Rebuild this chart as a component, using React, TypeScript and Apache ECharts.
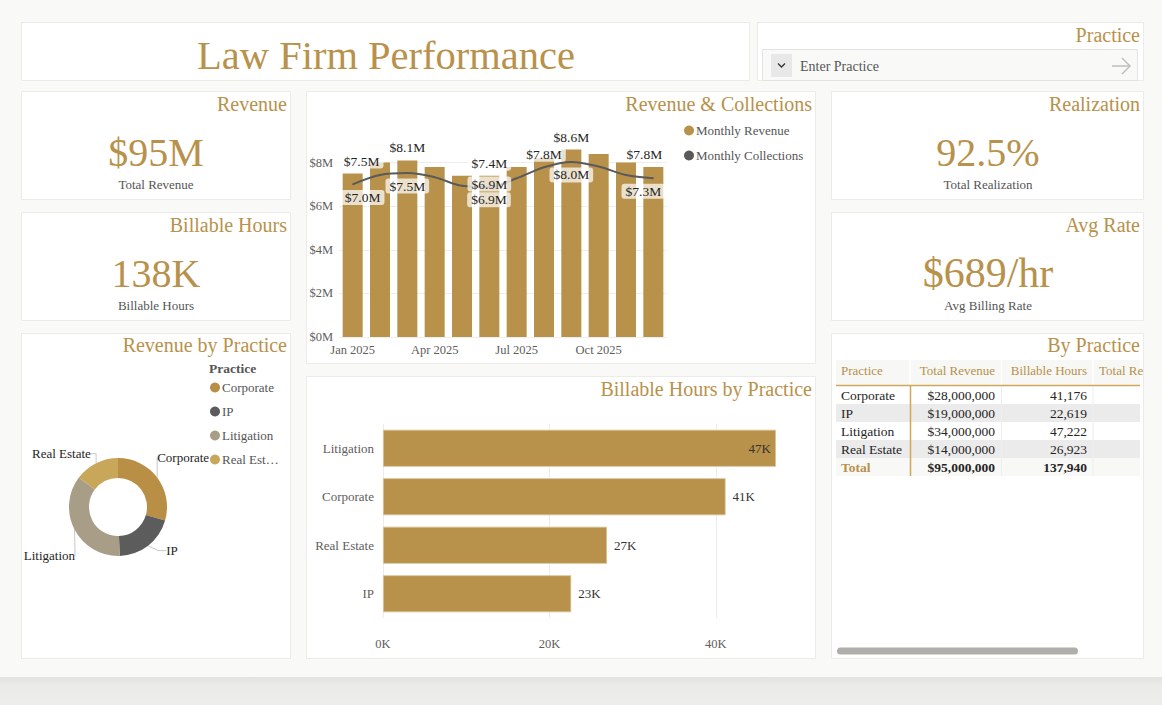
import React, { useEffect, useRef } from 'react';
import * as echarts from 'echarts';

// ---------------- data ----------------
const months = ['Jan 2025', 'Feb 2025', 'Mar 2025', 'Apr 2025', 'May 2025', 'Jun 2025', 'Jul 2025', 'Aug 2025', 'Sep 2025', 'Oct 2025', 'Nov 2025', 'Dec 2025'];
const monthlyRevenue = [7.5, 8.0, 8.1, 7.8, 7.4, 7.4, 7.8, 8.2, 8.6, 8.4, 8.0, 7.8]; // $M
const monthlyCollections = [7.0, 7.43, 7.52, 7.33, 6.94, 6.88, 7.28, 7.79, 8.03, 7.82, 7.43, 7.28]; // $M
const revenueTickLabels = ['$0M', '$2M', '$4M', '$6M', '$8M'];
const practices = ['Corporate', 'IP', 'Litigation', 'Real Estate'];
const practiceRevenue = [28000000, 19000000, 34000000, 14000000];
const practiceHours = [41176, 22619, 47222, 26923];
const hoursTickLabels = ['0K', '20K', '40K'];
const realizationRate = 0.925;

// which data labels the original shows
const revenueLabelIdx = [0, 2, 5, 8, 11];
const collectionLabelIdx = [0, 2, 4, 5, 7, 8, 11];

// ---------------- styles ----------------
const GOLD = '#b8914a';
const FONT = '"Liberation Serif", "DejaVu Serif", Georgia, serif';
const BG = '#f9f9f7';
const pieColors = ['#b88f45', '#5c5c5c', '#a89e88', '#c9a75a'];
// nudges of the donut's outside labels (Power BI places them closer to the ring)
const pieLabelNudge = [
  [-17, -17],
  [2, 1],
  [18, 24],
  [10, -5],
];

const revLabelStyle: Record<number, any> = {
  0: { position: 'top', offset: [9, 0] },
  2: { position: 'top' },
  5: { position: 'top' },
  8: { position: 'top' },
  11: { position: 'top', offset: [-9, 0] },
};
const colLabelStyle: Record<number, any> = {
  0: { position: 'bottom', offset: [10, 0] },
  2: { position: 'bottom' },
  4: { position: 'bottom', offset: [27, 1] },
  5: { position: 'inside', offset: [0, -3] },
  7: { position: 'top' },
  8: { position: 'bottom' },
  11: { position: 'bottom', offset: [-10, 0] },
};

const labelBox = {
  fontSize: 13.5,
  fontFamily: FONT,
  color: '#252423',
  backgroundColor: 'rgba(255,255,255,0.72)',
  padding: [1, 4],
  lineHeight: 13,
  borderRadius: 3,
};

function text(t: string, x: number, y: number, o: any = {}) {
  return {
    type: 'text',
    x,
    y,
    z: o.z ?? 5,
    style: {
      text: t,
      fill: o.fill ?? '#252423',
      fontSize: o.size ?? 13,
      fontFamily: FONT,
      fontWeight: o.weight ?? 'normal',
      textAlign: o.align ?? 'left',
      textVerticalAlign: 'middle',
      ...(o.width ? { width: o.width, overflow: 'truncate', ellipsis: '' } : {}),
    },
  };
}
function rect(x: number, y: number, w: number, h: number, fill: string, stroke?: string, z = 1, r = 0) {
  return {
    type: 'rect',
    z,
    shape: { x, y, width: w, height: h, r },
    style: { fill, stroke: stroke ?? 'none', lineWidth: 1 },
  };
}
function line(x1: number, y1: number, x2: number, y2: number, stroke: string, w = 1, z = 3) {
  return { type: 'line', z, shape: { x1, y1, x2, y2 }, style: { stroke, lineWidth: w } };
}

function buildOption() {
  const fmtM = (v: number) => '$' + v.toFixed(1) + 'M';
  const totalRevenue = practiceRevenue.reduce((a, b) => a + b, 0);
  const totalHours = practiceHours.reduce((a, b) => a + b, 0);
  const avgRate = Math.round(totalRevenue / totalHours);

  const order = practices.map((_, i) => i).sort((a, b) => practiceHours[b] - practiceHours[a]);
  const sortedPractices = order.map((i) => practices[i]);
  const sortedHours = order.map((i) => practiceHours[i]);

  const panels = [
    [21.5, 22.5, 728, 58],
    [757.5, 22.5, 386, 58],
    [21.5, 91.5, 269, 108],
    [21.5, 212.5, 269, 108],
    [306.5, 91.5, 509, 272],
    [831.5, 91.5, 312, 108],
    [831.5, 212.5, 312, 108],
    [21.5, 333.5, 269, 325],
    [306.5, 376.5, 509, 282],
    [831.5, 333.5, 312, 325],
  ];

  const TS = 20; // panel title size
  const g: any[] = [];
  g.push({
    type: 'rect',
    z: 0,
    shape: { x: 0, y: 677, width: 1162, height: 28 },
    style: {
      fill: {
        type: 'linear', x: 0, y: 0, x2: 0, y2: 1,
        colorStops: [
          { offset: 0, color: '#e2e2e0' },
          { offset: 0.3, color: '#ebebea' },
          { offset: 1, color: '#ededec' },
        ],
      },
    },
  });
  panels.forEach(([x, y, w, h]) => g.push(rect(x, y, w, h, '#ffffff', '#ecebe8', 0)));

  // Title
  g.push(text('Law Firm Performance', 386, 55, { size: 40.5, fill: GOLD, align: 'center' }));

  // Slicer
  g.push(text('Practice', 1140, 35, { size: TS, fill: GOLD, align: 'right' }));
  g.push(rect(762.5, 49.5, 375, 31, '#f9f9f8', '#e3e3e3', 1));
  g.push(rect(771, 54, 21, 23, '#e8e8e8', undefined, 2));
  g.push({ type: 'polyline', z: 3, shape: { points: [[778, 63.5], [781.5, 67], [785, 63.5]] }, style: { stroke: '#333', lineWidth: 1.3, fill: 'none' } });
  g.push(text('Enter Practice', 800, 66, { size: 14, fill: '#555' }));
  g.push(line(1112, 66, 1130, 66, '#bbbbbb', 1.4));
  g.push({ type: 'polyline', z: 3, shape: { points: [[1122, 58], [1130, 66], [1122, 74]] }, style: { stroke: '#bbbbbb', lineWidth: 1.4, fill: 'none' } });

  // KPI cards
  g.push(text('Revenue', 287, 104, { size: TS, fill: GOLD, align: 'right' }));
  g.push(text('$' + Math.round(totalRevenue / 1e6) + 'M', 156, 152, { size: 40, fill: GOLD, align: 'center' }));
  g.push(text('Total Revenue', 156, 184, { size: 13, fill: '#555', align: 'center' }));

  g.push(text('Billable Hours', 287, 225, { size: TS, fill: GOLD, align: 'right' }));
  g.push(text(Math.round(totalHours / 1000) + 'K', 156, 273, { size: 40, fill: GOLD, align: 'center' }));
  g.push(text('Billable Hours', 156, 305, { size: 13, fill: '#555', align: 'center' }));

  g.push(text('Realization', 1140, 104, { size: TS, fill: GOLD, align: 'right' }));
  g.push(text((realizationRate * 100).toFixed(1) + '%', 988, 152, { size: 40, fill: GOLD, align: 'center' }));
  g.push(text('Total Realization', 988, 184, { size: 13, fill: '#555', align: 'center' }));

  g.push(text('Avg Rate', 1140, 225, { size: TS, fill: GOLD, align: 'right' }));
  g.push(text('$' + avgRate + '/hr', 988, 273, { size: 42, fill: GOLD, align: 'center' }));
  g.push(text('Avg Billing Rate', 988, 305, { size: 13, fill: '#555', align: 'center' }));

  // chart titles
  g.push(text('Revenue & Collections', 812, 104, { size: TS, fill: GOLD, align: 'right' }));
  g.push(text('Revenue by Practice', 287, 345, { size: TS, fill: GOLD, align: 'right' }));
  g.push(text('Practice', 209, 368, { size: 13.5, fill: '#555', weight: 'bold' }));
  g.push(text('Billable Hours by Practice', 812, 389, { size: TS, fill: GOLD, align: 'right' }));
  g.push(text('By Practice', 1140, 345, { size: TS, fill: GOLD, align: 'right' }));

  // Table
  const tL = 836, tR = 1140;
  g.push(rect(tL, 360, tR - tL, 25, '#f7f7f5', undefined, 1));
  [910, 1001.5, 1093].forEach((x) => g.push(line(x, 360, x, 385, '#ffffff', 1.5, 2)));
  const rowTop = 386, rowH = 18;
  practices.forEach((p, i) => {
    const y0 = rowTop + i * rowH;
    if (i % 2 === 1) g.push(rect(tL, y0, tR - tL, rowH, '#ebebeb', undefined, 1));
    const cy = y0 + rowH / 2;
    g.push(text(p, 841, cy, { size: 13.5 }));
    g.push(text('$' + practiceRevenue[i].toLocaleString('en-US'), 995, cy, { size: 13.5, align: 'right' }));
    g.push(text(practiceHours[i].toLocaleString('en-US'), 1087, cy, { size: 13.5, align: 'right' }));
  });
  const totTop = rowTop + practices.length * rowH;
  g.push(rect(tL, totTop, tR - tL, rowH, '#f8f8f6', undefined, 1));
  [1001.5, 1093].forEach((x) => g.push(line(x, rowTop, x, totTop + rowH, '#eeeeec', 1, 2)));
  g.push(text('Total', 841, totTop + rowH / 2, { size: 13.5, fill: GOLD, weight: 'bold' }));
  g.push(text('$' + totalRevenue.toLocaleString('en-US'), 995, totTop + rowH / 2, { size: 13.5, weight: 'bold', align: 'right' }));
  g.push(text(totalHours.toLocaleString('en-US'), 1087, totTop + rowH / 2, { size: 13.5, weight: 'bold', align: 'right' }));
  g.push(line(tL, 385.5, tR, 385.5, '#cfa75b', 1.5, 3));
  g.push(line(910.5, 386, 910.5, totTop + rowH, '#cfa75b', 1.5, 3));
  g.push(text('Practice', 841, 370, { size: 13, fill: GOLD }));
  g.push(text('Total Revenue', 995, 370, { size: 13, fill: GOLD, align: 'right' }));
  g.push(text('Billable Hours', 1087, 370, { size: 13, fill: GOLD, align: 'right' }));
  g.push(text('Total Realization', 1099, 370, { size: 13, fill: GOLD, width: 46 }));
  // scrollbar
  g.push(rect(837, 647.5, 241, 7, '#b0aeaa', undefined, 2, 3.5));

  const axisText = { fontSize: 12.5, color: '#605e5c', fontFamily: FONT };

  return {
    animation: false,
    backgroundColor: BG,
    textStyle: { fontFamily: FONT },
    graphic: { elements: g },
    legend: [
      {
        data: ['Monthly Revenue', 'Monthly Collections'],
        orient: 'vertical',
        left: 679,
        top: 119,
        icon: 'circle',
        itemWidth: 10,
        itemHeight: 10,
        itemGap: 12,
        selectedMode: false,
        textStyle: { fontSize: 13, color: '#555', fontFamily: FONT, padding: [0, 0, 0, -3] },
      },
      {
        data: practices,
        orient: 'vertical',
        left: 205,
        top: 376,
        icon: 'circle',
        itemWidth: 10,
        itemHeight: 10,
        itemGap: 11,
        selectedMode: false,
        formatter: (n: string) => (n.length > 10 ? n.slice(0, 8) + '…' : n),
        textStyle: { fontSize: 13, color: '#555', fontFamily: FONT, padding: [0, 0, 0, -3] },
      },
    ],
    grid: [
      { left: 339, right: 495, top: 119, bottom: 368 },
      { left: 383, right: 363, top: 424, bottom: 87 },
    ],
    xAxis: [
      {
        gridIndex: 0,
        type: 'category',
        data: months,
        axisTick: { show: false },
        axisLine: { show: false },
        axisLabel: { ...axisText, interval: 2, margin: 6 },
      },
      {
        gridIndex: 1,
        type: 'value',
        min: 0,
        max: 50000,
        interval: 20000,
        axisLine: { show: false },
        axisTick: { show: false },
        splitLine: { show: true, showMaxLine: false, lineStyle: { color: '#ececea' } },
        axisLabel: {
          ...axisText,
          margin: 19,
          showMaxLabel: false,
          formatter: (v: number) => hoursTickLabels[v / 20000] ?? '',
        },
      },
    ],
    yAxis: [
      {
        gridIndex: 0,
        type: 'value',
        min: 0,
        max: 10,
        interval: 2,
        axisLine: { show: false },
        axisTick: { show: false },
        splitLine: { show: true, showMaxLine: false, lineStyle: { color: '#eeeeec' } },
        axisLabel: {
          ...axisText,
          margin: 6,
          showMaxLabel: false,
          formatter: (v: number) => revenueTickLabels[v / 2] ?? '',
        },
      },
      {
        gridIndex: 1,
        type: 'category',
        inverse: true,
        data: sortedPractices,
        axisLine: { show: false },
        axisTick: { show: false },
        axisLabel: { ...axisText, fontSize: 13, margin: 9 },
      },
    ],
    series: [
      {
        name: 'Monthly Revenue',
        type: 'bar',
        xAxisIndex: 0,
        yAxisIndex: 0,
        barWidth: 20,
        itemStyle: { color: GOLD },
        z: 2,
        label: { show: false, ...labelBox, distance: 5, formatter: (p: any) => fmtM(p.value) },
        data: monthlyRevenue.map((v, i) => ({
          value: v,
          label: revenueLabelIdx.includes(i) ? { show: true, ...revLabelStyle[i] } : undefined,
        })),
      },
      {
        name: 'Monthly Collections',
        type: 'line',
        xAxisIndex: 0,
        yAxisIndex: 0,
        smooth: 0.35,
        symbol: 'circle',
        symbolSize: 1,
        z: 4,
        lineStyle: { color: '#5a5a5a', width: 2 },
        itemStyle: { color: '#5a5a5a' },
        label: { show: false, ...labelBox, distance: 5, formatter: (p: any) => fmtM(p.value) },
        data: monthlyCollections.map((v, i) => ({
          value: v,
          label: collectionLabelIdx.includes(i) ? { show: true, ...colLabelStyle[i] } : undefined,
        })),
      },
      {
        name: 'Billable Hours',
        type: 'bar',
        xAxisIndex: 1,
        yAxisIndex: 1,
        barWidth: 37,
        itemStyle: { color: GOLD, borderColor: '#d6c294', borderWidth: 0.8 },
        label: {
          show: true,
          position: 'right',
          distance: 7,
          fontSize: 13,
          fontFamily: FONT,
          color: '#333',
          formatter: (p: any) => Math.round(p.value / 1000) + 'K',
        },
        data: sortedHours.map((v, i) => ({
          value: v,
          label: i === 0 ? { position: 'insideRight', distance: 5 } : undefined,
        })),
      },
      {
        name: 'Revenue by Practice',
        type: 'pie',
        center: [118, 507],
        radius: [29, 49],
        startAngle: 90,
        clockwise: true,
        label: { show: true, formatter: '{b}', fontSize: 13, color: '#252423', fontFamily: FONT, overflow: 'none' },
        labelLine: { show: true, length: 5, length2: 8, lineStyle: { color: '#c8c8c8', width: 1 } },
        labelLayout: (p: any) => {
          const [dx, dy] = pieLabelNudge[p.dataIndex] || [0, 0];
          const r = p.labelRect;
          const baseX = p.align === 'right' ? r.x + r.width : r.x;
          return { x: baseX + dx, y: r.y + r.height / 2 + dy };
        },
        data: practices.map((n, i) => ({ name: n, value: practiceRevenue[i], itemStyle: { color: pieColors[i] } })),
      },
    ],
  };
}

export default function App() {
  const ref = useRef<HTMLDivElement>(null);
  useEffect(() => {
    document.body.style.margin = '0';
    document.body.style.overflow = 'hidden';
    const chart = echarts.init(ref.current!, undefined, { renderer: 'svg' });
    chart.setOption(buildOption() as any);
    return () => chart.dispose();
  }, []);
  return <div ref={ref} style={{ width: 1162, height: 705 }} />;
}
